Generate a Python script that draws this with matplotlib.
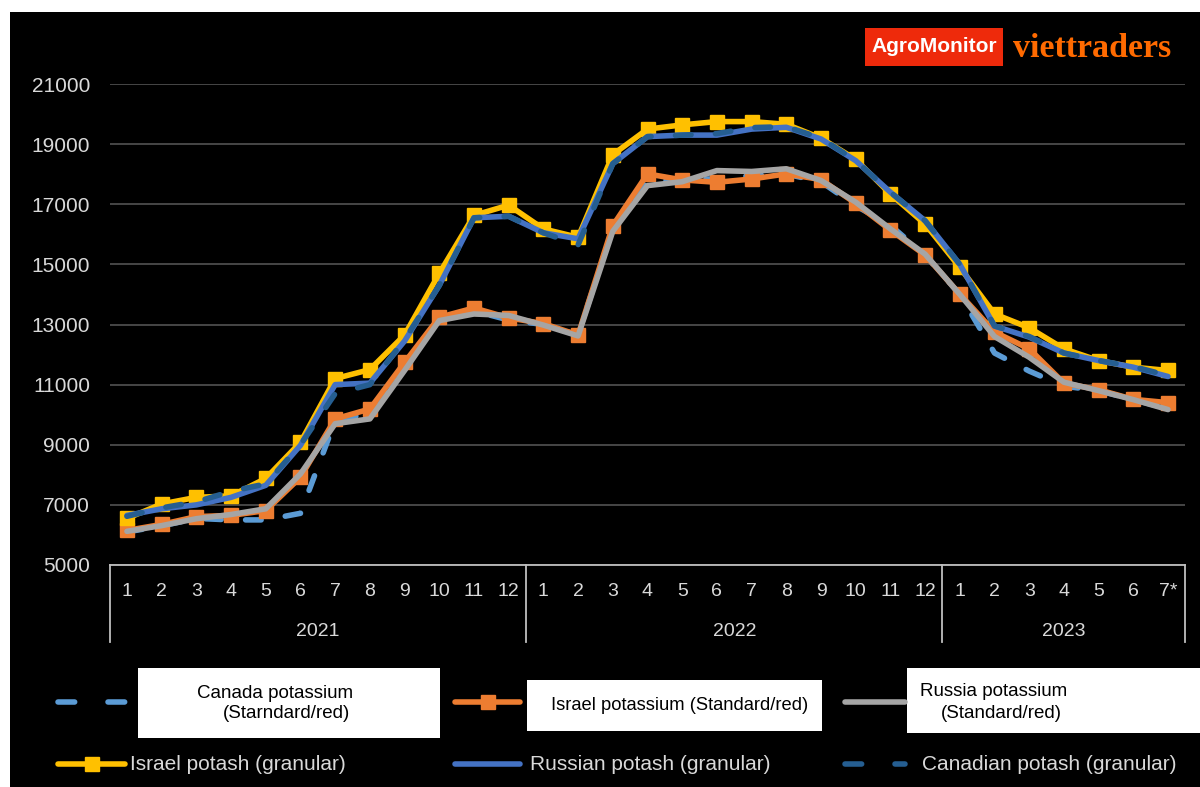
import matplotlib
matplotlib.use("Agg")
import matplotlib.pyplot as plt
from matplotlib.lines import Line2D
from matplotlib.patches import Rectangle
import matplotlib.transforms as mtransforms

plt.rcParams['font.family'] = ['Liberation Sans', 'DejaVu Sans']

# Monthly prices, Jan 2021 .. Jul 2023 (7* = preliminary)
month_labels = ['1', '2', '3', '4', '5', '6', '7', '8', '9', '10', '11', '12',
                '1', '2', '3', '4', '5', '6', '7', '8', '9', '10', '11', '12',
                '1', '2', '3', '4', '5', '6', '7*']
years = ['2021', '2022', '2023']
year_months = [12, 12, 7]

canada_std = [6100, 6300, 6550, 6500, 6500, 6720, 9800, 10050, 11700, 13200, 13450, 13150,
              13000, 12650, 16200, 17800, 17800, 17850, 17950, 18000, 17750, 16950, 16300, 15300,
              14000, 12050, 11450, 10950, 10800, 10500, 10200]
israel_std = [6150, 6350, 6610, 6650, 6810, 7920, 9860, 10190, 11740, 13240, 13550, 13220,
              13030, 12650, 16290, 18010, 17810, 17730, 17840, 18010, 17820, 17030, 16140, 15310,
              14010, 12750, 12190, 11050, 10830, 10510, 10400]
russia_std = [6120, 6310, 6540, 6680, 6870, 8030, 9700, 9860, 11470, 13130, 13350, 13300,
              12980, 12620, 16100, 17620, 17750, 18120, 18090, 18180, 17790, 17070, 16180, 15340,
              14000, 12600, 11910, 11080, 10800, 10500, 10170]
israel_gran = [6550, 7030, 7250, 7300, 7880, 9080, 11200, 11500, 12650, 14700, 16630, 16970,
               16180, 15900, 18650, 19500, 19640, 19750, 19750, 19660, 19200, 18490, 17340, 16340,
               14900, 13350, 12890, 12190, 11800, 11580, 11470]
russia_gran = [6650, 6870, 7000, 7250, 7650, 8980, 11000, 11050, 12450, 14300, 16550, 16600,
               16050, 15850, 18350, 19250, 19300, 19300, 19500, 19560, 19170, 18450, 17400, 16450,
               15000, 12950, 12580, 12050, 11800, 11580, 11270]
canada_gran = [6620, 6900, 7100, 7450, 7700, 9000, 10700, 11000, 12500, 14300, 16550, 16600,
               16050, 15650, 18350, 19250, 19300, 19350, 19550, 19580, 19200, 18450, 17400, 16450,
               15000, 12950, 12600, 12050, 11800, 11600, 11300]

C_CAN_STD = '#5B9BD5'
C_ISR_STD = '#ED7D31'
C_RUS_STD = '#A5A5A5'
C_ISR_GRAN = '#FFC000'
C_RUS_GRAN = '#4472C4'
C_CAN_GRAN = '#255E91'
TXT = '#D9D9D9'

W, H = 1200, 787
fig = plt.figure(figsize=(12, 7.87), dpi=100, facecolor='white')


def fx(x):
    return x / W


def fy(y):
    return 1 - y / H


# black panel behind everything
fig.add_artist(Rectangle((fx(10), 0), 1 - fx(10), fy(12), transform=fig.transFigure,
                         facecolor='black', edgecolor='none', zorder=0))

ax = fig.add_axes([fx(109.6), fy(565), fx(1185.4) - fx(109.6), fy(84) - fy(565)])
ax.set_facecolor('none')
ax.set_zorder(1)

x = list(range(len(month_labels)))
lw = 4
ax.plot(x, canada_std, color=C_CAN_STD, lw=lw, dashes=(2.8, 4.4),
        dash_capstyle='round', solid_capstyle='round', zorder=3)
ax.plot(x, israel_std, color=C_ISR_STD, lw=lw, marker='s', markersize=10.5,
        solid_joinstyle='round', zorder=4)
ax.plot(x, russia_std, color=C_RUS_STD, lw=lw, solid_capstyle='round',
        solid_joinstyle='round', zorder=5)
ax.plot(x, israel_gran, color=C_ISR_GRAN, lw=lw, marker='s', markersize=10.5,
        solid_joinstyle='round', zorder=6)
ax.plot(x, russia_gran, color=C_RUS_GRAN, lw=lw, solid_capstyle='round',
        solid_joinstyle='round', zorder=7)
ax.plot(x, canada_gran, color=C_CAN_GRAN, lw=lw, dashes=(2.8, 4.4),
        dash_capstyle='round', zorder=8)

ax.set_xlim(-0.5, len(month_labels) - 0.5)
ax.set_ylim(5000, 21000)
ax.set_yticks(range(5000, 21001, 2000))
ax.grid(axis='y', color='#595959', lw=1.1, zorder=1)
ax.set_axisbelow(True)
for s in ['left', 'right', 'top']:
    ax.spines[s].set_visible(False)
ax.spines['bottom'].set_color('#BFBFBF')
ax.spines['bottom'].set_linewidth(1.3)
ax.tick_params(axis='y', length=0, pad=14, labelsize=15, labelcolor=TXT)
ax.set_xticks(x)
ax.set_xticklabels(month_labels)
ax.tick_params(axis='x', length=0, pad=13, labelsize=14, labelcolor=TXT)

# year grouping under the month labels
trans = mtransforms.blended_transform_factory(ax.transData, ax.transAxes)
y_sep = -(642 - 565) / (565 - 84)
y_year = -(631 - 565) / (565 - 84)
start = -0.5
bounds = [start]
for n in year_months:
    bounds.append(bounds[-1] + n)
for b in bounds:
    ax.add_line(Line2D([b, b], [0, y_sep], transform=trans, color='#BFBFBF', lw=1.3,
                       clip_on=False))
for yr, a, b in zip(years, bounds[:-1], bounds[1:]):
    ax.text((a + b) / 2, y_year, yr, transform=trans, ha='center', va='center',
            fontsize=14, color=TXT)

# legend, drawn by hand
def handle(x0, x1, y, color, dashes=None, marker=None):
    kw = dict(color=color, lw=lw, transform=fig.transFigure, solid_capstyle='round')
    if dashes:
        kw.update(dashes=dashes, dash_capstyle='round')
    fig.add_artist(Line2D([fx(x0), fx(x1)], [fy(y), fy(y)], **kw))
    if marker:
        fig.add_artist(Line2D([fx((x0 + x1) / 2)], [fy(y)], marker=marker, markersize=10.5,
                              color=color, transform=fig.transFigure))


def box(x0, y0, x1, y1):
    fig.add_artist(Rectangle((fx(x0), fy(y1)), fx(x1) - fx(x0), fy(y0) - fy(y1),
                             transform=fig.transFigure, facecolor='white', edgecolor='none'))


row1, row2 = 702, 764
handle(58, 125, row1, C_CAN_STD, dashes=(3.0, 6.0))
box(138, 668, 440, 738)
fig.text(fx(275), fy(693), 'Canada potassium', ha='center', va='center', fontsize=13.5,
         color='black')
fig.text(fx(286), fy(714), '(Starndard/red)', ha='center', va='center', fontsize=13.5,
         color='black')

handle(455, 520, row1, C_ISR_STD, marker='s')
box(527, 680, 822, 731)
fig.text(fx(551), fy(705), 'Israel potassium (Standard/red)', ha='left', va='center',
         fontsize=13.2, color='black')

handle(845, 905, row1, C_RUS_STD)
box(907, 668, 1200, 733)
fig.text(fx(920), fy(691), 'Russia potassium', ha='left', va='center', fontsize=13.5,
         color='black')
fig.text(fx(941), fy(713), '(Standard/red)', ha='left', va='center', fontsize=13.5,
         color='black')

handle(58, 125, row2, C_ISR_GRAN, marker='s')
fig.text(fx(130), fy(row2), 'Israel potash (granular)', ha='left', va='center',
         fontsize=15, color=TXT)
handle(455, 520, row2, C_RUS_GRAN)
fig.text(fx(530), fy(row2), 'Russian potash (granular)', ha='left', va='center',
         fontsize=15, color=TXT)
handle(845, 905, row2, C_CAN_GRAN, dashes=(3.0, 6.0))
fig.text(fx(922), fy(row2), 'Canadian potash (granular)', ha='left', va='center',
         fontsize=15, color=TXT)

# logos
fig.add_artist(Rectangle((fx(865), fy(66)), fx(1003) - fx(865), fy(28) - fy(66),
                         transform=fig.transFigure, facecolor='#EE2A0B', edgecolor='none'))
fig.text(fx(934), fy(47), 'AgroMonitor', ha='center', va='center', fontsize=15,
         fontweight='bold', color='white',
         family=['Liberation Sans Narrow', 'Liberation Sans'])
fig.text(fx(1013), fy(57), 'viettraders', ha='left', va='baseline', fontsize=24.5,
         fontweight='bold', color='#FF6A00', family=['Liberation Serif', 'DejaVu Serif'])

fig.savefig('out.png', dpi=100, facecolor='white')
